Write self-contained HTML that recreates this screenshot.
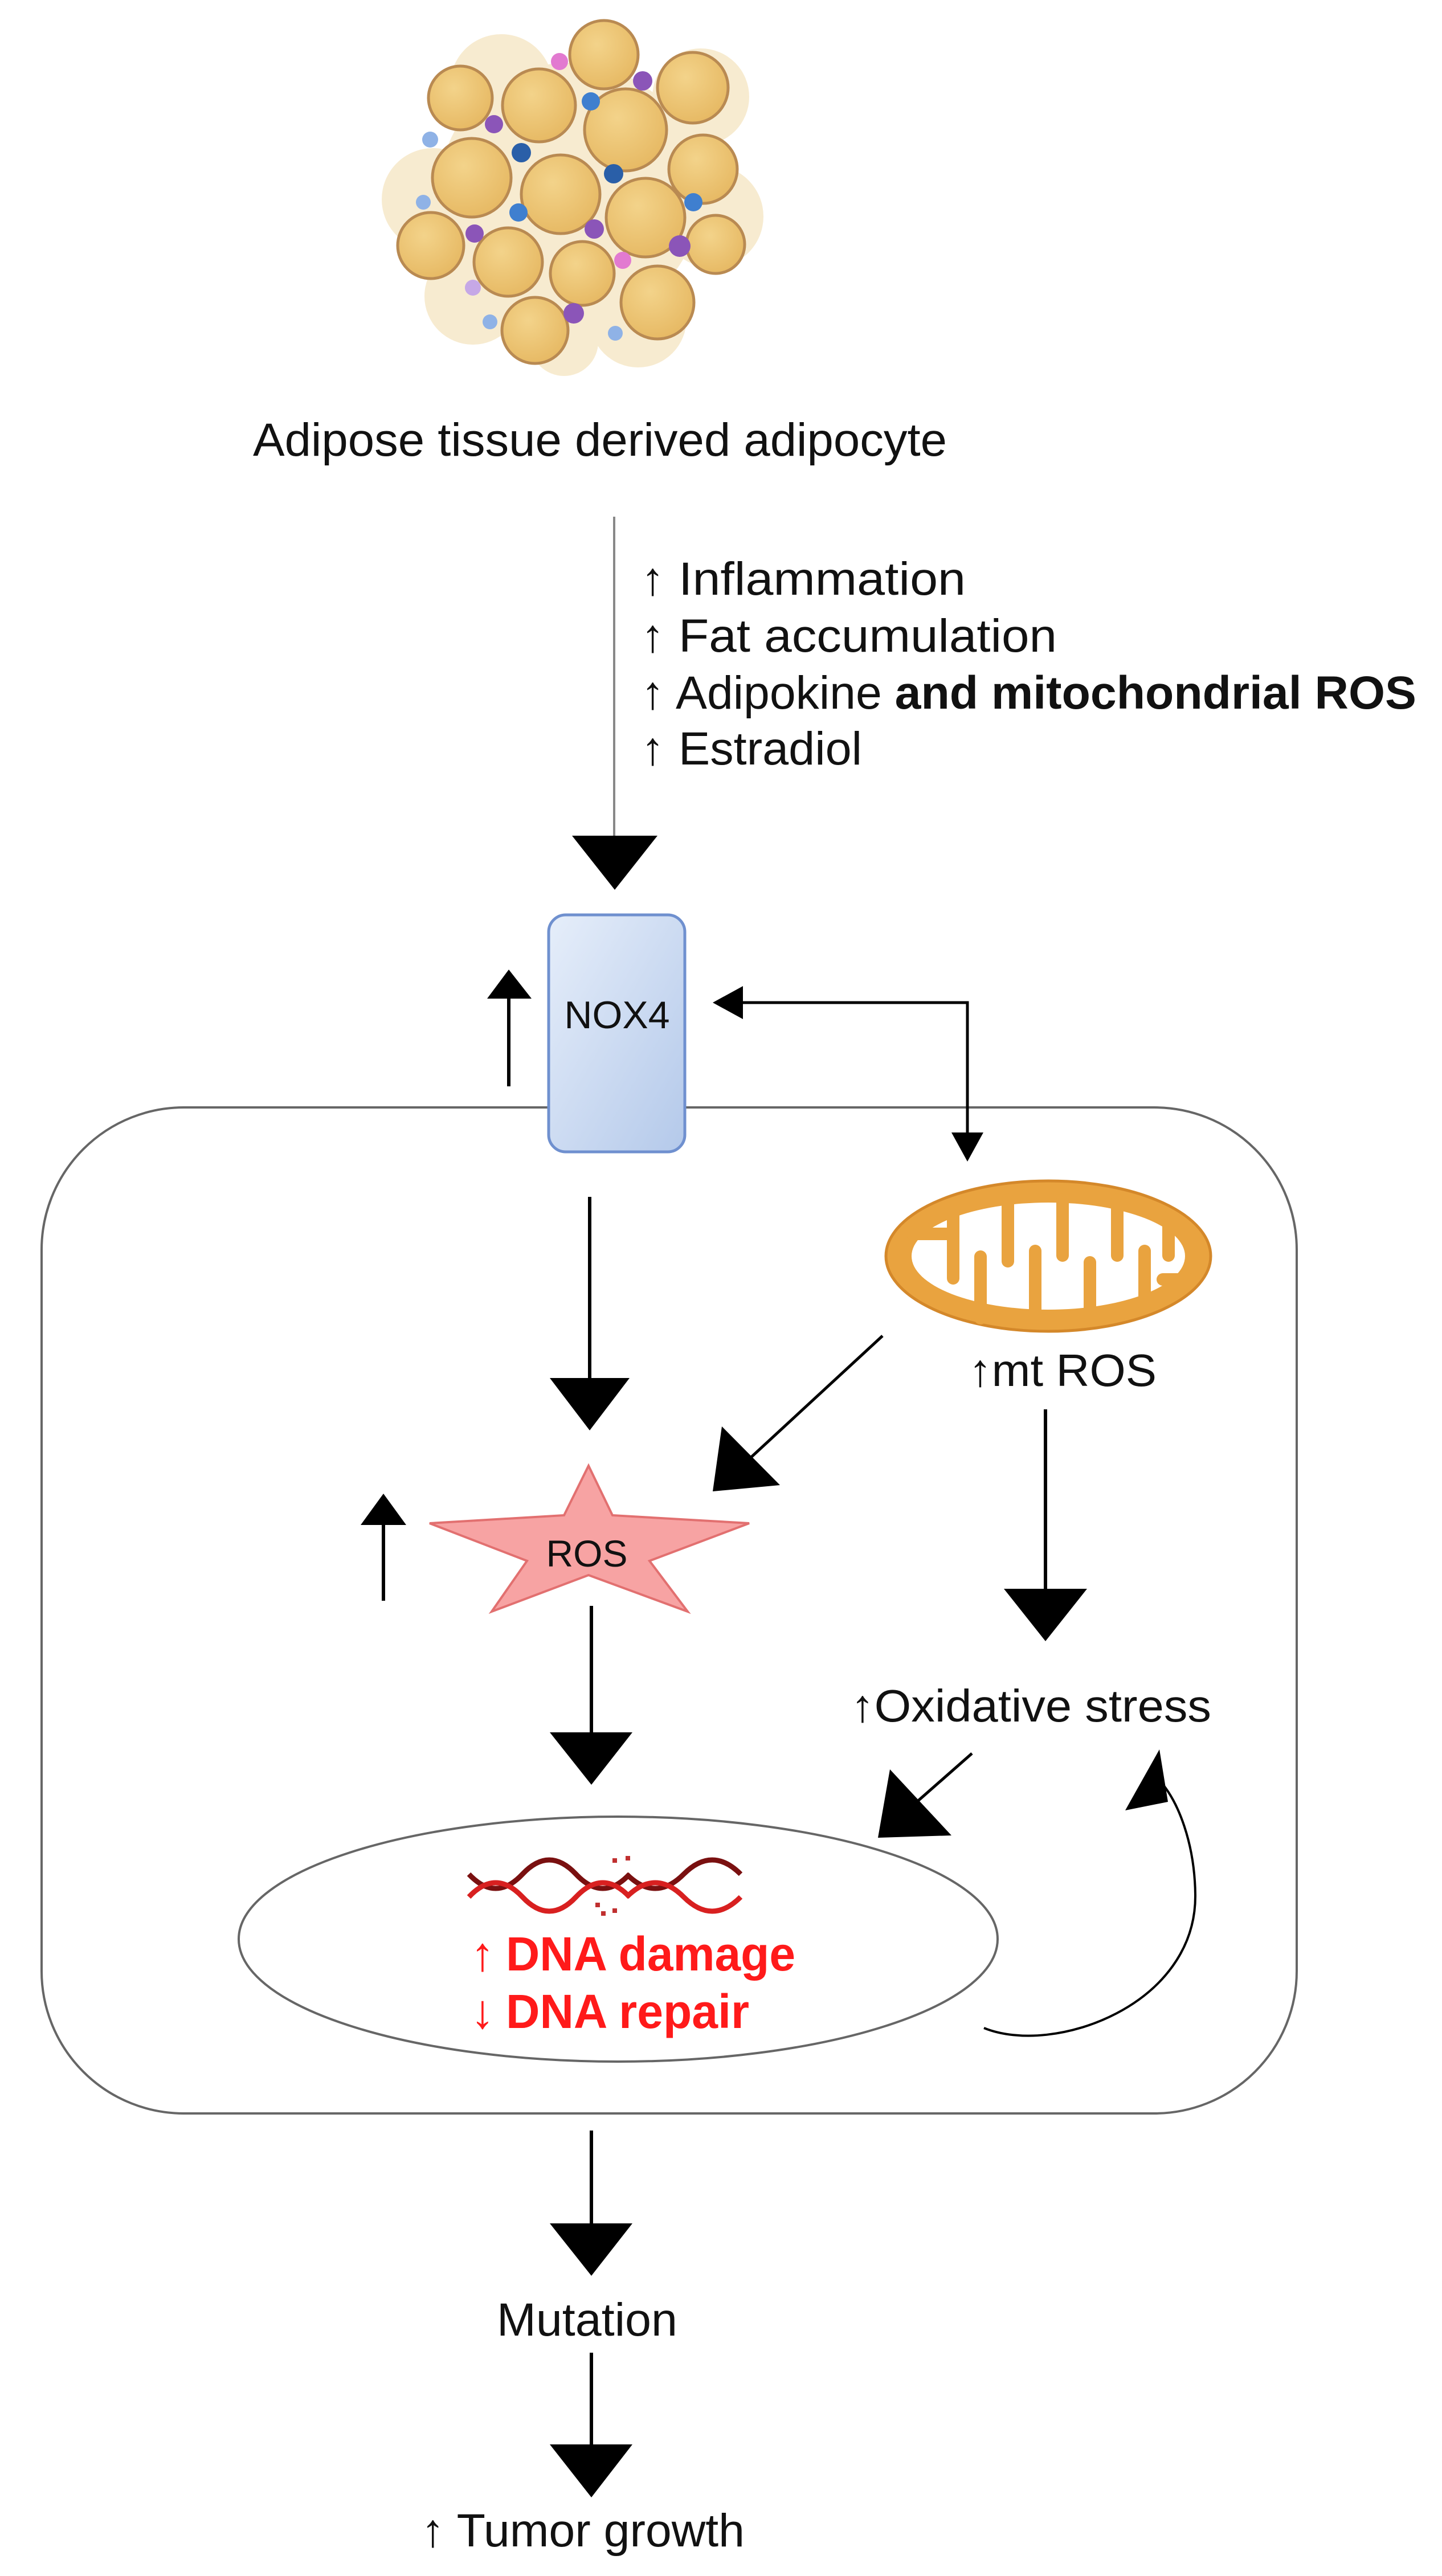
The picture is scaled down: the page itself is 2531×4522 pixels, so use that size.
<!DOCTYPE html>
<html><head><meta charset="utf-8"><style>
html,body{margin:0;padding:0;background:#fff}
svg{display:block}
text{font-family:"Liberation Sans",Arial,sans-serif}
</style></head><body>
<svg width="2531" height="4522" viewBox="0 0 2531 4522" xmlns="http://www.w3.org/2000/svg">
<defs>
<radialGradient id="fat" cx="0.4" cy="0.35" r="0.7">
<stop offset="0" stop-color="#f3d38a"/><stop offset="1" stop-color="#e6b862"/>
</radialGradient>
<linearGradient id="nox" x1="0" y1="0" x2="1" y2="1">
<stop offset="0" stop-color="#e6eefa"/><stop offset="1" stop-color="#b4c9ea"/>
</linearGradient>
</defs>

<!-- adipose cluster -->
<g>
<g fill="#f6e8c8" opacity="0.85">
<circle cx="880" cy="150" r="90"/>
<circle cx="1230" cy="170" r="85"/>
<circle cx="760" cy="350" r="90"/>
<circle cx="1250" cy="380" r="90"/>
<circle cx="830" cy="520" r="85"/>
<circle cx="1120" cy="560" r="85"/>
<circle cx="1000" cy="340" r="230"/>
<circle cx="990" cy="600" r="60"/>
</g>
<g fill="url(#fat)" stroke="#b98a52" stroke-width="5">
<circle cx="1060" cy="96" r="60"/>
<circle cx="808" cy="172" r="56"/>
<circle cx="1216" cy="154" r="62"/>
<circle cx="946" cy="185" r="64"/>
<circle cx="1098" cy="228" r="72"/>
<circle cx="1234" cy="297" r="60"/>
<circle cx="828" cy="312" r="69"/>
<circle cx="984" cy="341" r="69"/>
<circle cx="1133" cy="382" r="69"/>
<circle cx="756" cy="431" r="58"/>
<circle cx="1256" cy="429" r="51"/>
<circle cx="892" cy="460" r="60"/>
<circle cx="1022" cy="480" r="56"/>
<circle cx="1154" cy="531" r="64"/>
<circle cx="939" cy="580" r="58"/>
</g>
<g>
<circle cx="982" cy="108" r="15" fill="#e27ad0"/>
<circle cx="1128" cy="142" r="17" fill="#8b55b8"/>
<circle cx="1037" cy="178" r="16" fill="#3f7fcf"/>
<circle cx="867" cy="218" r="16" fill="#8b55b8"/>
<circle cx="915" cy="268" r="17" fill="#2a5fa8"/>
<circle cx="1077" cy="305" r="17" fill="#2a5fa8"/>
<circle cx="1217" cy="355" r="16" fill="#3f7fcf"/>
<circle cx="910" cy="373" r="16" fill="#3f7fcf"/>
<circle cx="1043" cy="402" r="17" fill="#8b55b8"/>
<circle cx="833" cy="410" r="16" fill="#8b55b8"/>
<circle cx="1193" cy="432" r="19" fill="#8b55b8"/>
<circle cx="1093" cy="457" r="15" fill="#e27ad0"/>
<circle cx="1007" cy="550" r="18" fill="#8b55b8"/>
<circle cx="755" cy="245" r="14" fill="#8fb2e6"/>
<circle cx="743" cy="355" r="13" fill="#8fb2e6"/>
<circle cx="830" cy="505" r="14" fill="#c6a8e6"/>
<circle cx="860" cy="565" r="13" fill="#8fb2e6"/>
<circle cx="1080" cy="585" r="13" fill="#8fb2e6"/>
</g>
</g>

<text x="444" y="800" font-size="82" textLength="1218" lengthAdjust="spacingAndGlyphs" fill="#111">Adipose tissue derived adipocyte</text>

<!-- gray arrow -->
<line x1="1078" y1="907" x2="1078" y2="1480" stroke="#888" stroke-width="4"/>
<polygon points="1004,1467 1154,1467 1079,1562" fill="#000"/>

<g font-size="82" fill="#111">
<text x="1125" y="1044">↑</text><text x="1191" y="1044" textLength="504" lengthAdjust="spacingAndGlyphs">Inflammation</text>
<text x="1125" y="1144">↑</text><text x="1191" y="1144" textLength="664" lengthAdjust="spacingAndGlyphs">Fat accumulation</text>
<text x="1125" y="1244">↑</text><text x="1186" y="1244" textLength="1300" lengthAdjust="spacingAndGlyphs">Adipokine <tspan font-weight="bold">and mitochondrial ROS</tspan></text>
<text x="1125" y="1342">↑</text><text x="1191" y="1342" textLength="322" lengthAdjust="spacingAndGlyphs">Estradiol</text>
</g>

<!-- cell -->
<rect x="73" y="1944" width="2203" height="1766" rx="250" ry="250" fill="none" stroke="#666" stroke-width="4"/>

<!-- NOX4 -->
<rect x="963" y="1606" width="239" height="416" rx="30" fill="url(#nox)" stroke="#6f90cf" stroke-width="5"/>
<text x="1083" y="1805" font-size="68" text-anchor="middle" fill="#111">NOX4</text>

<!-- left up arrow NOX4 -->
<line x1="893" y1="1907" x2="893" y2="1740" stroke="#000" stroke-width="6"/>
<polygon points="855,1753 933,1753 893,1702" fill="#000"/>

<!-- double arrow -->
<polyline points="1300,1760 1698,1760 1698,1995" fill="none" stroke="#000" stroke-width="5"/>
<polygon points="1251,1760 1304,1731 1304,1789" fill="#000"/>
<polygon points="1670,1988 1726,1988 1698,2039" fill="#000"/>

<!-- mitochondrion -->
<g>
<ellipse cx="1840" cy="2205" rx="285" ry="132" fill="#e9a33f" stroke="#d4882a" stroke-width="5"/>
<ellipse cx="1840" cy="2205" rx="240" ry="94" fill="#fff"/>
<g fill="#e9a33f">
<rect x="1590" y="2155" width="90" height="22" rx="11"/>
<rect x="1662" y="2115" width="22" height="140" rx="11"/>
<rect x="1710" y="2195" width="22" height="130" rx="11"/>
<rect x="1758" y="2095" width="22" height="130" rx="11"/>
<rect x="1806" y="2185" width="22" height="140" rx="11"/>
<rect x="1854" y="2095" width="22" height="120" rx="11"/>
<rect x="1902" y="2205" width="22" height="120" rx="11"/>
<rect x="1950" y="2095" width="22" height="120" rx="11"/>
<rect x="1998" y="2185" width="22" height="120" rx="11"/>
<rect x="2040" y="2125" width="22" height="90" rx="11"/>
<rect x="2030" y="2235" width="70" height="22" rx="11"/>
</g>
</g>
<text x="1700" y="2433" font-size="80" textLength="330" lengthAdjust="spacingAndGlyphs" fill="#111">↑mt ROS</text>

<!-- NOX4 down arrow -->
<line x1="1035" y1="2101" x2="1035" y2="2430" stroke="#000" stroke-width="6"/>
<polygon points="965,2419 1105,2419 1035,2511" fill="#000"/>

<!-- mito diagonal to ROS -->
<line x1="1549" y1="2345" x2="1300" y2="2575" stroke="#000" stroke-width="5"/>
<polygon points="1251,2618 1369,2607 1267,2504" fill="#000"/>

<!-- ROS star -->
<polygon points="1033,2573 1075,2660 1315,2674 1140,2740 1207,2829 1033,2765 863,2829 925,2740 754,2674 990,2660" fill="#f7a3a3" stroke="#e27070" stroke-width="4"/>
<text x="1030" y="2750" font-size="66" text-anchor="middle" fill="#111">ROS</text>

<!-- left up arrow ROS -->
<line x1="673" y1="2810" x2="673" y2="2660" stroke="#000" stroke-width="6"/>
<polygon points="633,2677 713,2677 673,2622" fill="#000"/>

<!-- ROS down arrow -->
<line x1="1038" y1="2819" x2="1038" y2="3050" stroke="#000" stroke-width="6"/>
<polygon points="965,3041 1110,3041 1038,3133" fill="#000"/>

<!-- mt ROS down arrow -->
<line x1="1835" y1="2474" x2="1835" y2="2800" stroke="#000" stroke-width="6"/>
<polygon points="1762,2789 1908,2789 1835,2881" fill="#000"/>

<text x="1493" y="3022" font-size="80" textLength="633" lengthAdjust="spacingAndGlyphs" fill="#111">↑Oxidative stress</text>

<!-- oxidative -> nucleus -->
<line x1="1706" y1="3078" x2="1590" y2="3180" stroke="#000" stroke-width="5"/>
<polygon points="1541,3226 1670,3222 1562,3106" fill="#000"/>

<!-- nucleus -->
<ellipse cx="1085" cy="3404" rx="666" ry="215" fill="none" stroke="#666" stroke-width="4"/>

<!-- DNA helix -->
<g fill="none" stroke-width="9">
<path d="M823,3290 Q870,3340 917,3290 T1011,3290 T1105,3290" stroke="#7a1010"/>
<path d="M823,3330 Q870,3280 917,3330 T1011,3330 T1105,3330" stroke="#d82020"/>
<path d="M1100,3290 Q1150,3340 1200,3290 T1300,3290" stroke="#7a1010"/>
<path d="M1100,3330 Q1150,3280 1200,3330 T1300,3330" stroke="#d82020"/>
</g>
<g fill="#c03030">
<rect x="1075" y="3262" width="8" height="8"/><rect x="1098" y="3258" width="8" height="8"/>
<rect x="1045" y="3340" width="8" height="8"/><rect x="1055" y="3355" width="8" height="8"/><rect x="1075" y="3350" width="8" height="8"/>
</g>

<g font-size="84" font-weight="bold" fill="#ff1a1a">
<text x="826" y="3459">↑</text><text x="888" y="3459" textLength="508" lengthAdjust="spacingAndGlyphs">DNA damage</text>
<text x="826" y="3560">↓</text><text x="888" y="3560" textLength="427" lengthAdjust="spacingAndGlyphs">DNA repair</text>
</g>

<!-- curved feedback arrow -->
<path d="M1727,3560 C1850,3610 2100,3520 2098,3326 C2097,3240 2070,3160 2030,3120" fill="none" stroke="#000" stroke-width="4"/>
<polygon points="1975,3178 2050,3163 2035,3071" fill="#000"/>

<!-- bottom arrows -->
<line x1="1038" y1="3740" x2="1038" y2="3910" stroke="#000" stroke-width="6"/>
<polygon points="965,3903 1110,3903 1038,3995" fill="#000"/>
<text x="872" y="4100" font-size="82" textLength="317" lengthAdjust="spacingAndGlyphs" fill="#111">Mutation</text>
<line x1="1038" y1="4130" x2="1038" y2="4300" stroke="#000" stroke-width="6"/>
<polygon points="965,4291 1110,4291 1038,4384" fill="#000"/>
<text x="739" y="4470" font-size="82" textLength="568" lengthAdjust="spacingAndGlyphs" fill="#111">↑ Tumor growth</text>
</svg>
</body></html>
